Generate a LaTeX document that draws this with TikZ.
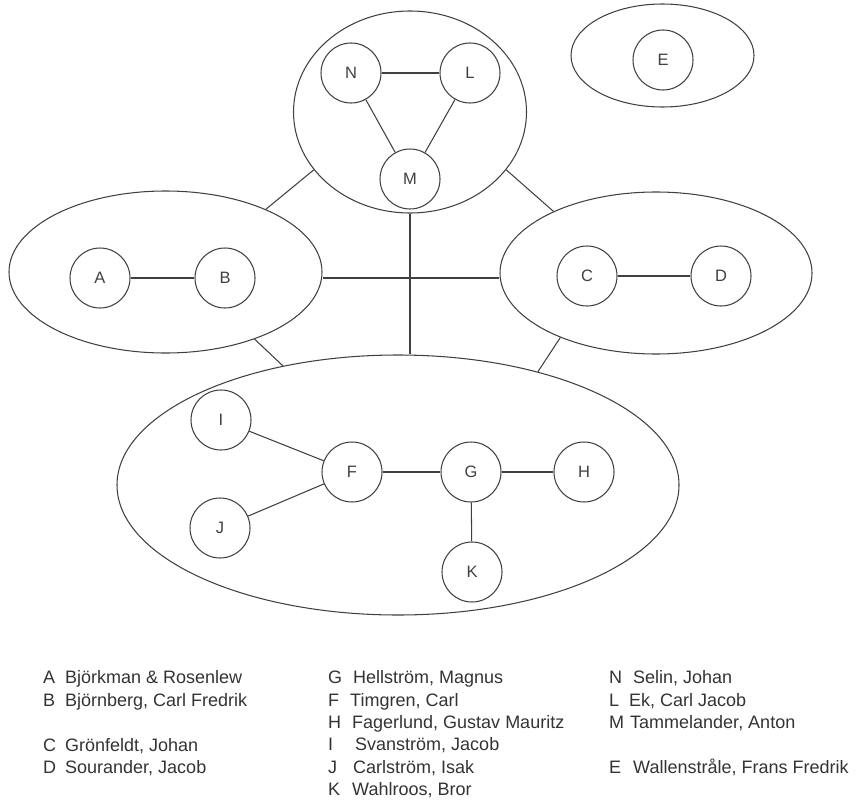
\documentclass[tikz,border=0pt]{standalone}
\usepackage{fontspec}
\setmainfont{Liberation Sans}
\usetikzlibrary{shapes.geometric}
\begin{document}
\begin{tikzpicture}[x=1pt,y=-1pt,
  ln/.style={line width=1.05pt, draw=black!75},
  person/.style={circle, ln, minimum size=60pt, inner sep=0pt, font=\fontsize{16.5}{16.5}\selectfont, text=black!75},
  group/.style={ellipse, ln, inner sep=0pt},
  leg/.style={anchor=base west, inner sep=0pt, font=\fontsize{18}{20}\selectfont, text=black!80}]
\useasboundingbox (0,0) rectangle (856,800);
% groups
\node[group, minimum width=233pt, minimum height=202pt] (gT) at (410,112) {};
\node[group, minimum width=313pt, minimum height=162pt] (gAB) at (165.5,272) {};
\node[group, minimum width=312pt, minimum height=162pt] (gCD) at (656,273) {};
\node[group, minimum width=562pt, minimum height=260pt] (gB) at (398,485) {};
\node[group, minimum width=183pt, minimum height=103pt] (gE) at (662.5,55.5) {};
% persons
\node[person] (N) at (351,73) {N};
\node[person] (L) at (470,73) {L};
\node[person] (M) at (410,179) {M};
\node[person] (A) at (100,278) {A};
\node[person] (B) at (225,278) {B};
\node[person] (C) at (587,276) {C};
\node[person] (D) at (721,276) {D};
\node[person] (E) at (663,60) {E};
\node[person] (I) at (221,420) {I};
\node[person] (F) at (352,472) {F};
\node[person] (G) at (471,472) {G};
\node[person] (H) at (584,472) {H};
\node[person] (J) at (220,528) {J};
\node[person] (K) at (472,572) {K};
% edges
\draw[ln] (N) -- (L);
\draw[ln] (N) -- (M);
\draw[ln] (L) -- (M);
\draw[ln] (A) -- (B);
\draw[ln] (C) -- (D);
\draw[ln] (I) -- (F);
\draw[ln] (J) -- (F);
\draw[ln] (F) -- (G);
\draw[ln] (G) -- (H);
\draw[ln] (G) -- (K);
% group connectors
\draw[ln] (gAB.32) -- (gT.211.8);
\draw[ln] (gCD.149.6) -- (gT.329.3);
\draw[ln] (gAB.323.6) -- (gB.134.5);
\draw[ln] (gCD.214.9) -- (gB.39.8);
\draw[ln] (gAB.east |- A) -- (gCD.west |- A);
\draw[ln] (gT.south) -- (gT.south |- gB.north);
% legend
\node[leg] (lA) at (43,683.5) {\makebox[22pt][l]{A}Björkman \& Rosenlew};
\node[leg] (lB) at (43,706.5) {\makebox[22pt][l]{B}Björnberg, Carl Fredrik};
\node[leg] (lC) at (43,751.5) {\makebox[22pt][l]{C}Grönfeldt, Johan};
\node[leg] (lD) at (43,773.5) {\makebox[22pt][l]{D}Sourander, Jacob};
\node[leg] (lG) at (328,683.5) {\makebox[25pt][l]{G}Hellström, Magnus};
\node[leg] (lF) at (328,706.5) {\makebox[22pt][l]{F}Timgren, Carl};
\node[leg] (lH) at (328,728.5) {\makebox[24pt][l]{H}Fagerlund, Gustav Mauritz};
\node[leg] (lI) at (328,750.5) {\makebox[27pt][l]{I}Svanström, Jacob};
\node[leg] (lJ) at (328,773.5) {\makebox[25pt][l]{J}Carlström, Isak};
\node[leg] (lK) at (328,795) {\makebox[24pt][l]{K}Wahlroos, Bror};
\node[leg] (lN) at (609,683.5) {\makebox[24pt][l]{N}Selin, Johan};
\node[leg] (lL) at (609,706.5) {\makebox[20pt][l]{L}Ek, Carl Jacob};
\node[leg] (lM) at (609,728.5) {\makebox[21pt][l]{M}Tammelander, Anton};
\node[leg] (lE) at (609,773.5) {\makebox[24pt][l]{E}Wallenstråle, Frans Fredrik};
\end{tikzpicture}
\end{document}
